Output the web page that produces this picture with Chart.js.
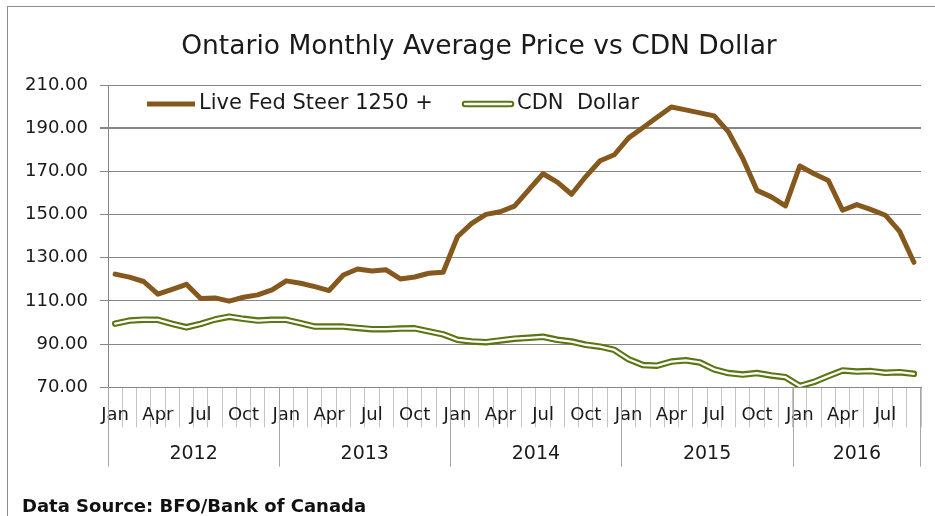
<!DOCTYPE html>
<html>
<head>
<meta charset="utf-8">
<script src="https://cdn.jsdelivr.net/npm/chart.js@4.4.0/dist/chart.umd.min.js"></script>
<style>
html,body{margin:0;padding:0;background:#fff;}
#wrap{position:relative;width:935px;height:516px;overflow:hidden;background:#fff;}
#frame{position:absolute;left:7px;top:6px;width:940px;height:520px;border-top:1px solid #8c8c8c;border-left:1px solid #8c8c8c;}
#chart{position:absolute;left:0;top:0;}
#title{position:absolute;left:0;width:958px;top:28px;text-align:center;font-family:"DejaVu Sans";font-size:26.5px;color:#1a1a1a;line-height:34px;white-space:nowrap;}
#source{position:absolute;left:22px;top:495px;font-family:"DejaVu Sans";font-weight:bold;font-size:18px;line-height:22px;color:#111;white-space:nowrap;}
</style>
</head>
<body>
<div id="wrap">
  <div id="frame"></div>
  <canvas id="chart" width="935" height="516"></canvas>
  <div id="title">Ontario Monthly Average Price vs CDN Dollar</div>
  <div id="source">Data Source: BFO/Bank of Canada</div>
</div>
<script>
// ---- data ----
const years = ['2012', '2013', '2014', '2015', '2016'];
const monthNames = ['Jan','Feb','Mar','Apr','May','Jun','Jul','Aug','Sep','Oct','Nov','Dec'];
const quarterMonths = ['Jan', 'Apr', 'Jul', 'Oct'];
const seriesNames = ['Live Fed Steer 1250 +', 'CDN  Dollar'];
const steerPrice = [
  122.4, 121.0, 119.0, 113.1, 115.4, 117.7, 111.1, 111.4, 109.9, 111.7, 112.8, 115.1,
  119.3, 118.2, 116.6, 114.8, 122.0, 124.8, 123.9, 124.4, 120.2, 121.1, 122.8, 123.3,
  139.7, 145.9, 150.1, 151.3, 153.9, 161.4, 168.9, 165.0, 159.4, 167.6, 174.9, 177.7,
  185.5, 190.2, 195.1, 199.8, 198.5, 197.1, 195.7, 188.3, 176.1, 161.2, 158.2, 154.0,
  172.5, 168.9, 165.8, 152.0, 154.6, 152.3, 149.7, 142.2, 127.9
];
const cdnDollar = [
  99.5, 100.9, 101.3, 101.25, 99.4, 97.8, 99.4, 101.4, 102.7, 101.7, 100.9, 101.25,
  101.25, 99.7, 98.1, 98.1, 98.1, 97.5, 96.9, 96.9, 97.2, 97.3, 95.9, 94.5,
  92.0, 91.25, 90.9, 91.7, 92.5, 92.9, 93.4, 92.0, 91.2, 89.7, 88.8, 87.3,
  83.0, 80.3, 80.0, 81.9, 82.5, 81.5, 78.3, 76.6, 75.9, 76.6, 75.5, 74.7,
  70.6, 72.5, 75.2, 77.8, 77.3, 77.5, 76.7, 77.0, 76.25
];
const yMin = 70, yMax = 210, yStep = 20;

// categories built from years x months
const categories = [];
years.forEach(y => monthNames.forEach(m => categories.push(m + ' ' + y)));
categories.length = steerPrice.length;

const BROWN = '#85581E';
const GREEN = '#5A7612';
const TEXT = '#1a1a1a';
const FONT = 'DejaVu Sans';

const extrasPlugin = {
  id: 'extras',
  afterDraw(chart) {
    const ctx = chart.ctx;
    const ca = chart.chartArea;
    const x = chart.scales.x;
    const n = categories.length;
    const step = x.getPixelForValue(1) - x.getPixelForValue(0);
    ctx.save();
    // year group separators and labels
    ctx.strokeStyle = '#a6a6a6';
    ctx.lineWidth = 1;
    ctx.fillStyle = TEXT;
    ctx.font = '19px "' + FONT + '"';
    ctx.textAlign = 'center';
    ctx.textBaseline = 'middle';
    const sepBottom = ca.bottom + 79.4;
    years.forEach((yr, k) => {
      const start = k * 12;
      if (start >= n) return;
      const end = Math.min(start + 11, n - 1);
      const left = Math.round(x.getPixelForValue(start) - step / 2) + 0.5;
      ctx.beginPath();
      ctx.moveTo(left, ca.bottom);
      ctx.lineTo(left, sepBottom);
      ctx.stroke();
      const cx = (x.getPixelForValue(start) + x.getPixelForValue(end)) / 2;
      ctx.fillText(yr, cx, ca.bottom + 67);
    });
    const right = Math.round(x.getPixelForValue(n - 1) + step / 2) - 0.5;
    ctx.beginPath();
    ctx.moveTo(right, ca.bottom);
    ctx.lineTo(right, sepBottom);
    ctx.stroke();

    // legend inside plot area
    const ly = ca.top + 19;
    ctx.lineCap = 'butt';
    ctx.strokeStyle = BROWN;
    ctx.lineWidth = 5;
    ctx.beginPath();
    ctx.moveTo(ca.left + 39, ly);
    ctx.lineTo(ca.left + 87, ly);
    ctx.stroke();
    ctx.font = '21px "' + FONT + '"';
    ctx.textAlign = 'left';
    ctx.fillStyle = TEXT;
    ctx.fillText(seriesNames[0], ca.left + 91, ly);

    ctx.lineCap = 'round';
    ctx.strokeStyle = GREEN;
    ctx.lineWidth = 6.5;
    ctx.beginPath();
    ctx.moveTo(ca.left + 357, ly);
    ctx.lineTo(ca.left + 403, ly);
    ctx.stroke();
    ctx.strokeStyle = '#ffffff';
    ctx.lineWidth = 2.3;
    ctx.beginPath();
    ctx.moveTo(ca.left + 357, ly);
    ctx.lineTo(ca.left + 403, ly);
    ctx.stroke();
    ctx.fillStyle = TEXT;
    ctx.fillText(seriesNames[1], ca.left + 409, ly);
    ctx.restore();
  }
};

new Chart(document.getElementById('chart').getContext('2d'), {
  type: 'line',
  data: {
    labels: categories,
    datasets: [
      { label: seriesNames[0], data: steerPrice, borderColor: BROWN, borderWidth: 5, order: 0,
        pointRadius: 0, tension: 0, borderJoinStyle: 'round', borderCapStyle: 'round', fill: false },
      { label: seriesNames[1], data: cdnDollar, borderColor: GREEN, borderWidth: 6.5, order: 2,
        pointRadius: 0, tension: 0, borderJoinStyle: 'round', borderCapStyle: 'round', fill: false, clip: 0 },
      { label: seriesNames[1] + ' (inner)', data: cdnDollar, borderColor: '#ffffff', borderWidth: 2.3, order: 1,
        pointRadius: 0, tension: 0, borderJoinStyle: 'round', borderCapStyle: 'round', fill: false, clip: 0 }
    ]
  },
  options: {
    responsive: false,
    animation: false,
    devicePixelRatio: 1,
    layout: { padding: { top: 85, right: 14, bottom: 0, left: 0 } },
    plugins: { legend: { display: false }, title: { display: false }, tooltip: { enabled: false } },
    scales: {
      x: {
        type: 'category',
        offset: true,
        grid: { offset: true, drawOnChartArea: false, drawTicks: true, tickLength: 40, color: '#c4c4c4', lineWidth: 1 },
        border: { display: true, color: '#868686', width: 1 },
        ticks: {
          autoSkip: false, maxRotation: 0, minRotation: 0, padding: -23, color: TEXT,
          font: { family: FONT, size: 18 },
          callback: (v, i) => quarterMonths.includes(monthNames[i % 12]) ? monthNames[i % 12] : ''
        },
        afterFit: s => { s.height = 128.7; }
      },
      y: {
        min: yMin, max: yMax,
        ticks: { stepSize: yStep, padding: 12, color: TEXT, font: { family: FONT, size: 18 },
                 callback: v => Number(v).toFixed(2) },
        grid: { color: '#868686', lineWidth: c => (c.tick && c.tick.value === 190) ? 2 : 1, tickLength: 8, drawTicks: true },
        border: { color: '#868686', width: 1 },
        afterFit: s => { s.width = 108; }
      }
    }
  },
  plugins: [extrasPlugin]
});
</script>
</body>
</html>
